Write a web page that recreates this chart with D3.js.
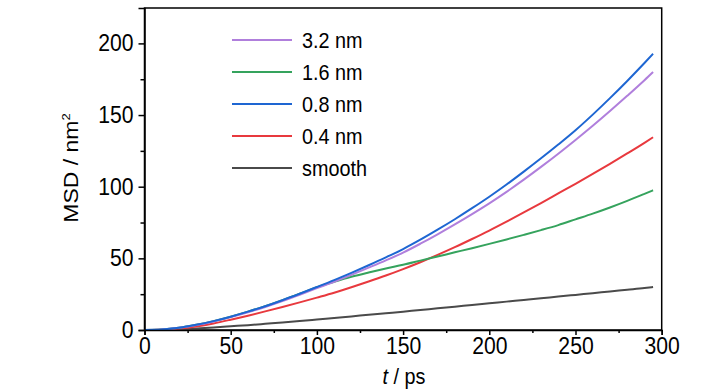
<!DOCTYPE html>
<html><head><meta charset="utf-8">
<script src="https://cdn.jsdelivr.net/npm/d3@7"></script>
<style>body{margin:0;background:#fff}svg{display:block}text{font-family:"Liberation Sans",Arial,sans-serif;fill:#000}</style>
</head><body><svg id="c" width="728" height="390"></svg>
<script>
const time = [0,10,20,30,40,50,60,70,80,90,100,110,120,130,140,150,160,170,180,190,200,210,220,230,240,250,260,270,280,290,295];
const s32 = [0,0.3,1.5,3.5,6.0,9.0,12.4,16.1,20.2,24.6,29.2,33.7,38.5,43.5,48.6,54.0,60.2,66.8,73.7,80.9,88.4,96.4,104.9,113.8,123.0,132.6,142.5,152.8,163.4,174.3,180];
const s16 = [0,0.3,1.5,3.6,6.2,9.3,12.8,16.6,20.8,25.3,29.8,33.6,37.1,40.1,42.9,45.5,48.4,51.3,54.2,57.1,60.1,63.2,66.4,69.7,73.2,77.2,81.2,85.5,90.1,95.0,97.5];
const s08 = [0,0.3,1.5,3.6,6.2,9.3,12.8,16.6,20.8,25.3,30.0,34.8,39.9,45.2,50.7,56.5,63.0,70.0,77.3,85.0,93.0,101.5,110.5,119.8,129.4,139.4,150.3,161.8,173.8,186.3,192.8];
const s04 = [0,0.2,1.0,2.5,4.6,7.2,10.0,13.0,16.1,19.3,22.6,26.0,29.8,33.8,38.0,42.5,47.3,52.4,57.8,63.5,69.4,75.6,82.0,88.6,95.3,102.0,108.9,116.0,123.2,130.6,134.5];
const sSmooth = [0,0.1,0.5,1.1,1.8,2.6,3.4,4.3,5.2,6.2,7.3,8.4,9.5,10.6,11.7,12.8,14,15.1,16.3,17.4,18.6,19.8,21,22.2,23.3,24.5,25.7,26.9,28.1,29.3,30];
const seriesNames = ["3.2 nm","1.6 nm","0.8 nm","0.4 nm","smooth"];
const seriesValues = [s32,s16,s08,s04,sSmooth];
const colors = ["#b07fdc","#35a35d","#1e66d2","#e8393e","#4a4a4a"];
const xTicks = [0,50,100,150,200,250,300];
const yTicks = [0,50,100,150,200];

const svg = d3.select("#c");
const L=144.5,R=661.7,T=8,B=330;
const x = d3.scaleLinear().domain([0,300]).range([L,R]);
const y = d3.scaleLinear().domain([0,224.7]).range([B,T]);
const squeeze = (sel,k)=>sel.each(function(){
  const w=this.getComputedTextLength();
  d3.select(this).attr("textLength",w*k).attr("lengthAdjust","spacingAndGlyphs");
});

svg.append("rect").attr("x",L).attr("y",T).attr("width",R-L).attr("height",B-T)
  .attr("fill","none").attr("stroke","#000").attr("stroke-width",1.5);

const line = d3.line().curve(d3.curveMonotoneX).x((d,i)=>x(time[i])).y(d=>y(d));
[4,3,1,0,2].forEach(k=>{
  svg.append("path").datum(seriesValues[k]).attr("d",line)
    .attr("fill","none").attr("stroke",colors[k]).attr("stroke-width",2);
});

svg.append("g").attr("transform",`translate(0,${B})`)
  .call(d3.axisBottom(x).tickValues(xTicks).tickSize(5).tickPadding(3).tickFormat(d3.format("d")));
svg.append("g").attr("transform",`translate(0,${B})`)
  .call(d3.axisBottom(x).tickValues(d3.range(25,300,50)).tickSize(3).tickFormat(""))
  .call(g=>g.select(".domain").remove());
svg.append("g").attr("transform",`translate(${L},0)`)
  .call(d3.axisLeft(y).tickValues(yTicks).tickSize(6).tickPadding(5).tickFormat(d3.format("d")));
svg.append("g").attr("transform",`translate(${L},0)`)
  .call(d3.axisLeft(y).tickValues(d3.range(25,225,50)).tickSize(4).tickFormat(""))
  .call(g=>g.select(".domain").remove());
svg.selectAll(".domain").attr("stroke","#000").attr("stroke-width",1.5);
svg.selectAll(".tick line").attr("stroke","#000").attr("stroke-width",1.5);
svg.selectAll(".tick text").style("font-size","23px").style("font-family","'Liberation Sans',Arial,sans-serif").attr("fill","#000")
  .call(squeeze,0.92);

svg.append("text").attr("transform","translate(78,168) scale(0.88,1) rotate(-90)").attr("text-anchor","middle")
  .style("font-size","23px").html('MSD / nm<tspan dy="-9" style="font-size:13px">2</tspan>');
svg.append("text").attr("x",404).attr("y",384).attr("text-anchor","middle").style("font-size","22px")
  .html('<tspan font-style="italic">t</tspan> / ps').call(squeeze,0.9);

const lg = svg.append("g");
seriesNames.forEach((n,i)=>{
  const yy = 40 + i*32;
  lg.append("line").attr("x1",232).attr("x2",292).attr("y1",yy).attr("y2",yy)
    .attr("stroke",colors[i]).attr("stroke-width",2);
  lg.append("text").attr("x",302).attr("y",yy).attr("dy","0.36em").style("font-size","22px").text(n).call(squeeze,0.9);
});
</script></body></html>
